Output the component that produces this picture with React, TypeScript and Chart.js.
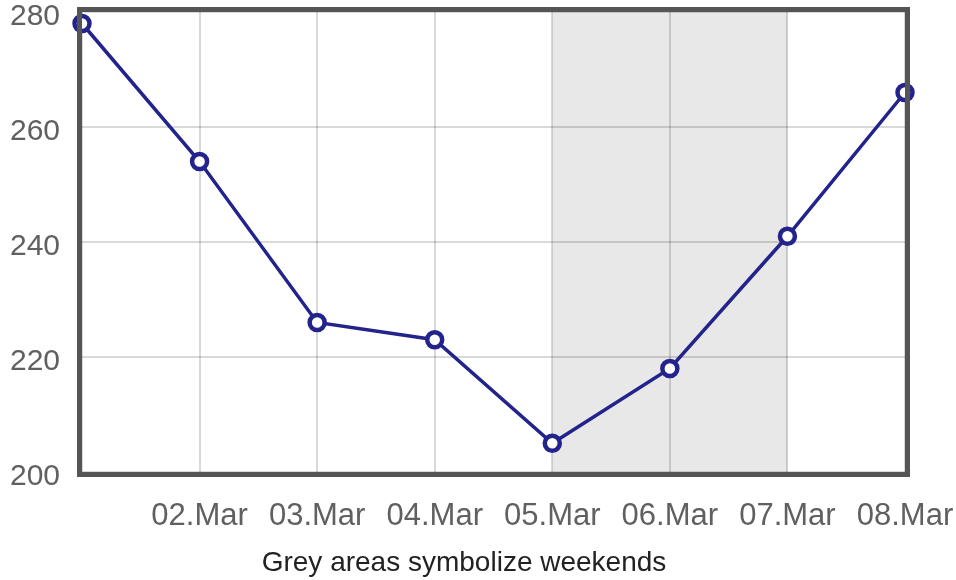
import React, { useEffect, useRef } from "react";
import { Chart, registerables } from "chart.js";

Chart.register(...registerables);

const categories = ["01.Mar", "02.Mar", "03.Mar", "04.Mar", "05.Mar", "06.Mar", "07.Mar", "08.Mar"];
const values = [278, 254, 226, 223, 205, 218, 241, 266];
const weekendRange = ["05.Mar", "07.Mar"];
const yMin = 200;
const yMax = 280;
const yStep = 20;
const axisTitle = "Grey areas symbolize weekends";

const FONT = "'Liberation Sans', Arial, sans-serif";

const framePlugin = {
  id: "frameAndWeekends",
  beforeDraw(chart: any) {
    const { ctx, chartArea, scales } = chart;
    const x = scales.x;
    const a = x.getPixelForValue(categories.indexOf(weekendRange[0]));
    const b = x.getPixelForValue(categories.indexOf(weekendRange[1]));
    ctx.save();
    ctx.fillStyle = "#e8e8e8";
    ctx.fillRect(a, chartArea.top, b - a, chartArea.bottom - chartArea.top);
    ctx.restore();
  },
  afterDatasetsDraw(chart: any) {
    const { ctx, chartArea } = chart;
    ctx.save();
    ctx.strokeStyle = "#555555";
    ctx.lineWidth = 5;
    ctx.strokeRect(
      chartArea.left - 2.5,
      chartArea.top - 2.5,
      chartArea.right - chartArea.left + 5,
      chartArea.bottom - chartArea.top + 5
    );
    ctx.restore();
  },
  afterDraw(chart: any) {
    const { ctx } = chart;
    ctx.save();
    ctx.fillStyle = "#222222";
    ctx.font = `28px ${FONT}`;
    ctx.textAlign = "center";
    ctx.textBaseline = "alphabetic";
    ctx.fillText(axisTitle, 464, 571);
    ctx.restore();
  },
};

export default function App() {
  const ref = useRef<HTMLCanvasElement | null>(null);
  useEffect(() => {
    document.body.style.margin = "0";
    const canvas = ref.current!;
    const chart = new Chart(canvas, {
      type: "line",
      data: {
        labels: categories,
        datasets: [
          {
            data: values,
            borderColor: "#23238c",
            borderWidth: 3.5,
            pointRadius: 7.5,
            pointBorderWidth: 4.5,
            pointBackgroundColor: "#ffffff",
            pointBorderColor: "#23238c",
            tension: 0,
            clip: false as any,
          },
        ],
      },
      options: {
        animation: false,
        responsive: false,
        maintainAspectRatio: false,
        layout: { padding: { left: 0, right: 51, top: 12, bottom: 43 } },
        plugins: {
          legend: { display: false },
          tooltip: { enabled: false },
          title: { display: false },
        },
        scales: {
          x: {
            type: "category",
            offset: false,
            grid: { color: "rgba(0,0,0,0.15)", lineWidth: 2, drawTicks: false },
            border: { display: false },
            ticks: {
              color: "#606060",
              font: { family: FONT, size: 31 },
              padding: 26,
              maxRotation: 0,
              autoSkip: false,
              callback: (_v: any, i: number) => (i === 0 ? "" : categories[i]),
            },
            afterFit: (scale: any) => {
              scale.height = 65;
              scale.paddingLeft = 0;
              scale.paddingRight = 0;
            },
          },
          y: {
            min: yMin,
            max: yMax,
            grid: { color: "rgba(0,0,0,0.15)", lineWidth: 2, drawTicks: false },
            border: { display: false },
            ticks: {
              stepSize: yStep,
              color: "#606060",
              font: { family: FONT, size: 30, lineHeight: 0.3 },
              padding: 22,
              callback: (v: any) => ["", String(v)],
            },
            afterFit: (scale: any) => {
              scale.width = 82;
              scale.paddingTop = 0;
              scale.paddingBottom = 0;
            },
          },
        },
      },
      plugins: [framePlugin],
    });
    return () => chart.destroy();
  }, []);
  return (
    <div style={{ width: 956, height: 580 }}>
      <canvas ref={ref} width={956} height={580} style={{ display: "block" }} />
    </div>
  );
}
